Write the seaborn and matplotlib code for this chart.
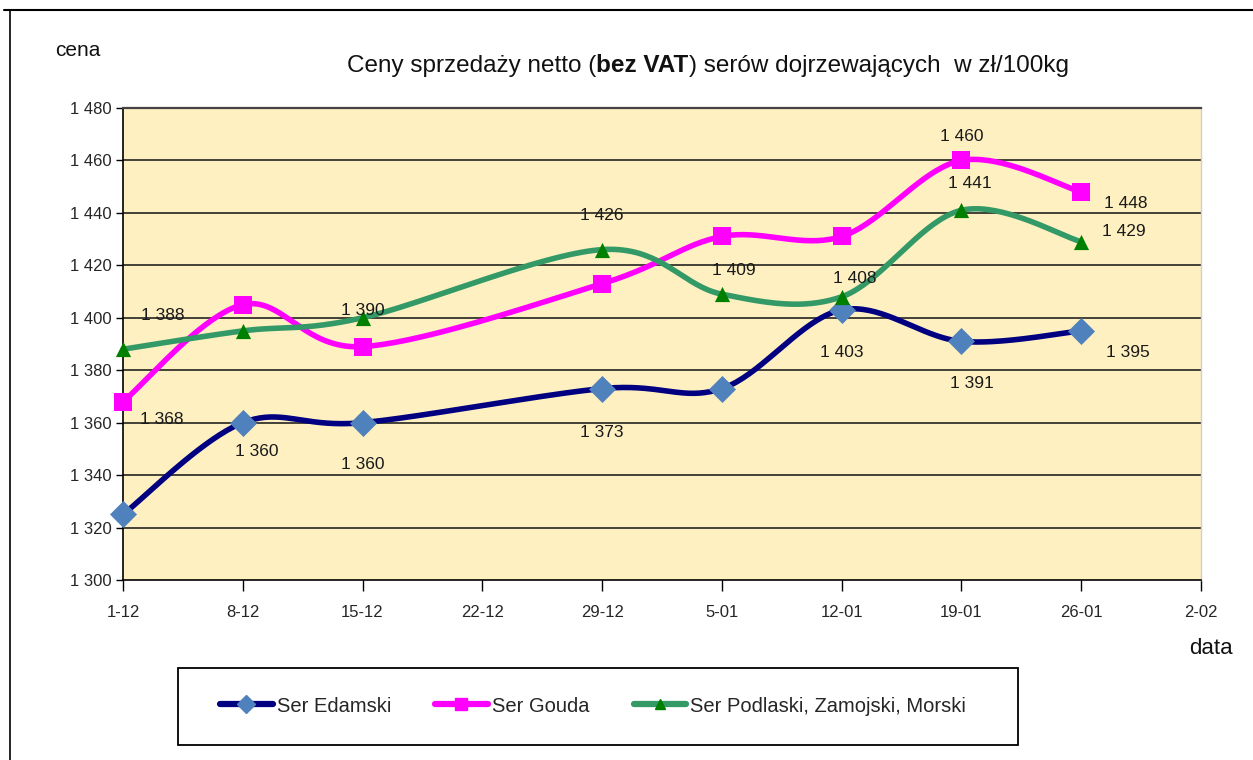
import numpy as np
import pandas as pd
import matplotlib
matplotlib.use("Agg")
import matplotlib.pyplot as plt
from matplotlib import font_manager
from matplotlib.lines import Line2D
from matplotlib.patches import Rectangle
import seaborn as sns

# ---------------- data ----------------
dates = ["1-12", "8-12", "15-12", "22-12", "29-12", "5-01", "12-01", "19-01", "26-01", "2-02"]
obs_idx = [0, 1, 2, 4, 5, 6, 7, 8]          # weeks with observations (22-12 missing)
edamski = [1325, 1360, 1360, 1373, 1373, 1403, 1391, 1395]
gouda = [1368, 1405, 1389, 1413, 1431, 1431, 1460, 1448]
podlaski = [1388, 1395, 1400, 1426, 1409, 1408, 1441, 1429]
edamski_labels = [None, "1 360", "1 360", "1 373", None, "1 403", "1 391", "1 395"]
gouda_labels = ["1 368", None, None, None, None, None, "1 460", "1 448"]
podlaski_labels = ["1 388", None, "1 390", "1 426", "1 409", "1 408", "1 441", "1 429"]
series_names = ["Ser Edamski", "Ser Gouda", "Ser Podlaski, Zamojski, Morski"]
yticks = [1300, 1320, 1340, 1360, 1380, 1400, 1420, 1440, 1460, 1480]

# label offsets in pixels (style only)
edamski_off = [None, (14, -29), (0, -42), (0, -44), None, (0, -43), (10, -42), (47, -22)]
gouda_off = [(39, -18), None, None, None, None, None, (0, 24), (45, -12)]
podlaski_off = [(40, 34), None, (0, 7), (0, 34), (12, 24), (13, 18), (8, 27), (43, 10)]

# ---------------- fonts ----------------
def pick(fams):
    for f in fams:
        try:
            font_manager.findfont(f, fallback_to_default=False)
            return f
        except Exception:
            pass
    return "DejaVu Sans"

narrow = pick(["Liberation Sans Narrow", "Liberation Sans", "Arial"])

sns.set_theme(style="white")
plt.rcParams["font.family"] = [narrow, "DejaVu Sans"]


def smooth(xs, ys, n=40):
    pts = np.column_stack([xs, ys]).astype(float)
    out = []
    for i in range(len(pts) - 1):
        p0 = pts[i - 1] if i > 0 else pts[i]
        p1, p2 = pts[i], pts[i + 1]
        p3 = pts[i + 2] if i + 2 < len(pts) else pts[i + 1]
        c1 = p1 + (p2 - p0) / 6.0
        c2 = p2 - (p3 - p1) / 6.0
        t = np.linspace(0, 1, n)[:, None]
        b = ((1 - t) ** 3) * p1 + 3 * ((1 - t) ** 2) * t * c1 + 3 * (1 - t) * t ** 2 * c2 + t ** 3 * p2
        out.append(b if i == 0 else b[1:])
    return np.vstack(out)


W, H = 1253, 760
fig = plt.figure(figsize=(W / 100, H / 100), dpi=100)
fig.patch.set_facecolor("white")
ax = fig.add_axes([123 / W, 1 - 580 / H, (1201 - 123) / W, (580 - 108) / H])
ax.set_facecolor("#FFF0C2")

line_colors = ["#000080", "#FF00FF", "#339966"]
marker_colors = ["#4F81BD", "#FF00FF", "#008000"]
markers = ["D", "s", "^"]
msizes = [190, 150, 120]
all_vals = [edamski, gouda, podlaski]
all_labels = [edamski_labels, gouda_labels, podlaski_labels]
all_offs = [edamski_off, gouda_off, podlaski_off]

for k, (name, vals) in enumerate(zip(series_names, all_vals)):
    curve = smooth(obs_idx, vals)
    df = pd.DataFrame({"x": curve[:, 0], "y": curve[:, 1]})
    sns.lineplot(data=df, x="x", y="y", sort=False, estimator=None, ax=ax,
                 color=line_colors[k], linewidth=4.0, zorder=3 + k * 2, legend=False)
    pdf = pd.DataFrame({"x": obs_idx, "y": vals})
    sns.scatterplot(data=pdf, x="x", y="y", ax=ax, marker=markers[k], s=msizes[k],
                    color=marker_colors[k], edgecolor=marker_colors[k], linewidth=0,
                    zorder=4 + k * 2, legend=False, clip_on=False)
    for xi, yi, lab, off in zip(obs_idx, vals, all_labels[k], all_offs[k]):
        if lab is None:
            continue
        ax.annotate(lab, (xi, yi), xytext=off, textcoords="offset pixels",
                    ha="center", va="center", fontsize=12.5, color="#1a1a1a", zorder=20)

ax.set_xlim(0, 9)
ax.set_ylim(1300, 1480)
ax.set_xticks(range(len(dates)))
ax.set_xticklabels(dates, fontsize=12)
ax.set_yticks(yticks)
ax.set_yticklabels([f"{v // 1000} {v % 1000:03d}" for v in yticks], fontsize=12)
ax.set_xlabel("")
ax.set_ylabel("")
for v in yticks[1:]:
    ax.axhline(v, color="#111111", linewidth=1.1, zorder=1)
ax.tick_params(axis="x", direction="out", length=8, width=1, color="black", pad=10)
ax.tick_params(axis="y", direction="out", length=5, width=1, color="black", pad=3)
ax.tick_params(bottom=True, left=True)
for s in ["left", "bottom"]:
    ax.spines[s].set_visible(True)
    ax.spines[s].set_color("black")
    ax.spines[s].set_linewidth(1.2)
ax.spines["top"].set_visible(True)
ax.spines["top"].set_color("#444444")
ax.spines["top"].set_linewidth(1.6)
ax.spines["right"].set_visible(True)
ax.spines["right"].set_color("#cfcfcf")
ax.spines["right"].set_linewidth(1.0)

# axis captions
fig.text(78 / W, 1 - 50 / H, "cena", ha="center", va="center", fontsize=15, color="#111111")
fig.text(1211 / W, 1 - 649 / H, "data", ha="center", va="center", fontsize=16, color="#111111")

# title with bold part
parts = [("Ceny sprzedaży netto (", "normal"), ("bez VAT", "bold"),
         (") serów dojrzewających  w zł/100kg", "normal")]
renderer = fig.canvas.get_renderer()
texts = []
for s, w in parts:
    t = fig.text(0, 1 - 66 / H, s, ha="left", va="center", fontsize=17.5,
                 fontweight=w, color="#111111")
    texts.append(t)
widths = [t.get_window_extent(renderer).width for t in texts]
total = sum(widths)
x0 = 708 - total / 2
for t, w in zip(texts, widths):
    t.set_x(x0 / W)
    x0 += w

# legend (frame drawn separately to match the reference box)
handles = [Line2D([0], [0], color=line_colors[k], linewidth=4.5, marker=markers[k],
                  markersize=[9, 8, 7][k], markerfacecolor=marker_colors[k],
                  markeredgecolor=marker_colors[k]) for k in range(3)]
leg = fig.legend(handles, series_names, loc="center", bbox_to_anchor=(593 / W, 1 - 706 / H),
                 ncol=3, frameon=False, fontsize=14.5,
                 handlelength=2.6, handletextpad=0.2, columnspacing=2.2, borderpad=1.4)
fig.add_artist(Rectangle((178 / W, 1 - 745 / H), (1018 - 178) / W, (745 - 668) / H,
                         transform=fig.transFigure, facecolor="white",
                         edgecolor="black", linewidth=1.3, zorder=0))

# figure border
fig.add_artist(Line2D([4 / W, 1], [1 - 10 / H, 1 - 10 / H], transform=fig.transFigure,
                      color="black", linewidth=1.5))
fig.add_artist(Line2D([10 / W, 10 / W], [0, 1 - 10 / H], transform=fig.transFigure,
                      color="black", linewidth=1.2))

fig.savefig("out.png", dpi=100)
